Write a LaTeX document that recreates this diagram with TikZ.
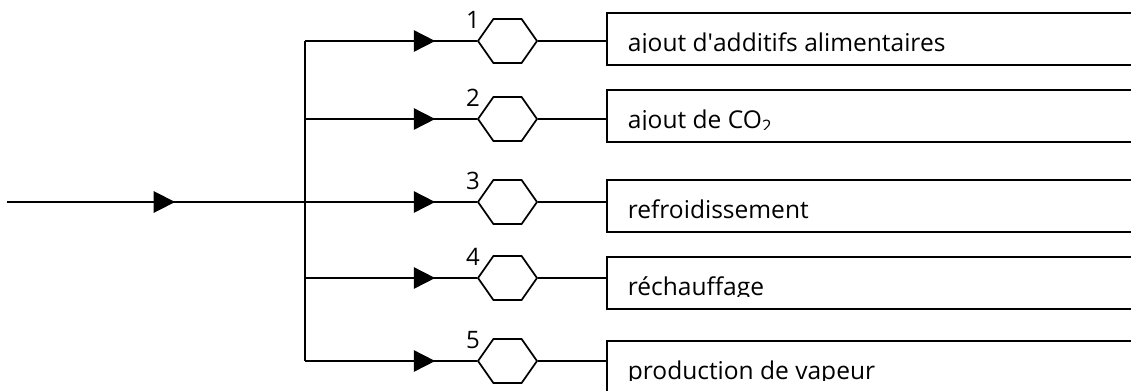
\documentclass[tikz,border=0pt]{standalone}
\usepackage{fontspec}
\setmainfont{Open Sans}
\usetikzlibrary{shapes.symbols,decorations.markings,arrows.meta}

\tikzset{
  vanne/.style={draw, shape=signal, signal to=east and west, signal pointer angle=110,
    minimum width=44.25pt, minimum height=33pt, inner sep=0pt},
  cadre/.style={draw, anchor=north west, minimum width=420pt, minimum height=39pt, inner sep=0pt},
  pointe/.style={postaction=decorate, decoration={markings,
    mark=at position #1 with {\arrow{Triangle[length=16pt,width=16pt]}}}},
  num/.style={font=\fontsize{18}{20}\selectfont, inner sep=0pt},
  txt/.style={anchor=base west, inner sep=0pt, font=\fontsize{18.4}{22}\selectfont}
}

\begin{document}
\begin{tikzpicture}[x=0.75pt,y=-0.75pt,line width=1.3pt]
  \useasboundingbox (0,0) rectangle (1131,390);

  % conduite d'entree
  \coordinate (entree) at (7,202);
  \coordinate (split) at (305,202);
  \draw[pointe=0.564] (entree) -- (split);

  % les cinq branches
  \foreach \n/\y/\yb/\txt in {1/41/12/{ajout d\textquotesingle additifs alimentaires},
                             2/119/89/{ajout de CO\textsubscript{2}},
                             3/202/179/{refroidissement},
                             4/278/256/{réchauffage},
                             5/361/340/{production de vapeur}}{
    \coordinate (b\n) at (305,\y);
    \node[vanne] (h\n) at (507.5,\y) {};
    \node[num] (l\n) at (473,\y-21) {\n};
    \node[cadre] (r\n) at (606,\yb) {};
    \begin{scope}
      \clip (606,\yb) rectangle (1131,\yb+40.5);
      \node[txt] (t\n) at (627,\yb+39) {\txt};
    \end{scope}
    \draw[pointe=0.757] (b\n) -- (h\n.west);
    \draw (h\n.east) -- (h\n.east -| r\n.west);
  }
  \draw (b1) -- (b5);
\end{tikzpicture}
\end{document}
